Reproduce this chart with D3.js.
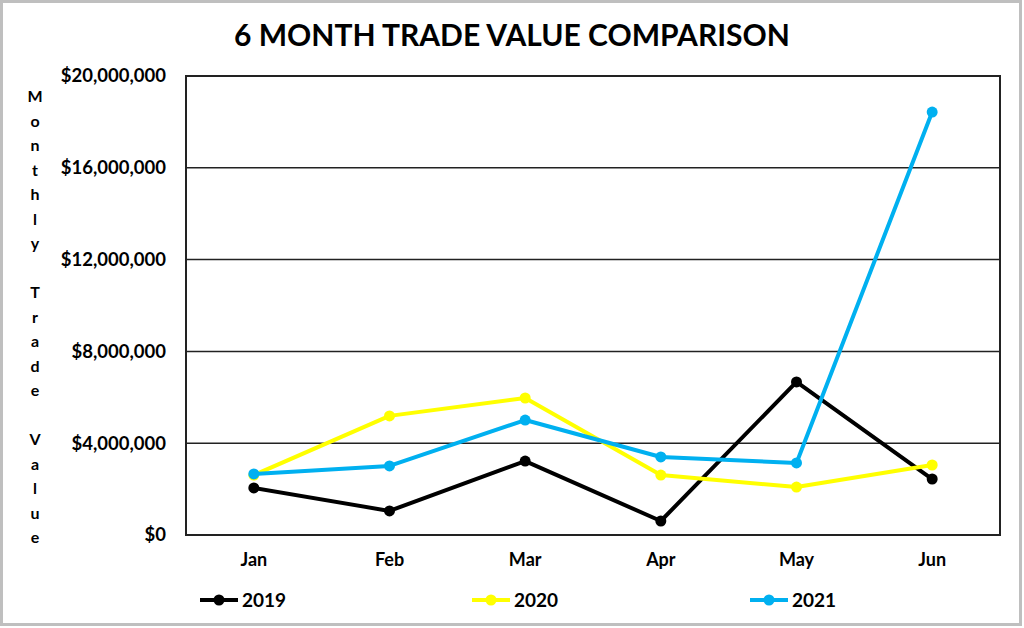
<!DOCTYPE html>
<html>
<head>
<meta charset="utf-8">
<script src="https://cdn.jsdelivr.net/npm/d3@7"></script>
<style>
  body { margin: 0; background: #fff; }
  svg { display: block; font-family: Lato, "Open Sans", sans-serif; font-weight: bold; }
</style>
</head>
<body>
<div id="chart"></div>
<script>
// Data
const months = ["Jan", "Feb", "Mar", "Apr", "May", "Jun"];
const years = ["2019", "2020", "2021"];
const values2019 = [2050000, 1050000, 3220000, 610000, 6670000, 2440000];
const values2020 = [2610000, 5190000, 5970000, 2610000, 2090000, 3050000];
const values2021 = [2660000, 3010000, 5010000, 3400000, 3140000, 18430000];
const yTicks = [0, 4000000, 8000000, 12000000, 16000000, 20000000];
const colors = ["#000000", "#ffff00", "#00b0f0"];

const series = [values2019, values2020, values2021];

const width = 1024;
const height = 628;
const margin = { top: 76, right: 24, bottom: 93, left: 186 };

const svg = d3
  .select("#chart")
  .append("svg")
  .attr("width", width)
  .attr("height", height);

// outer frame
svg
  .append("rect")
  .attr("x", 1.5)
  .attr("y", 1.5)
  .attr("width", width - 5)
  .attr("height", height - 5)
  .attr("fill", "#fff")
  .attr("stroke", "#bfbfbf")
  .attr("stroke-width", 3);

const x = d3
  .scaleBand()
  .domain(months)
  .range([margin.left, width - margin.right]);

const y = d3
  .scaleLinear()
  .domain([0, 20000000])
  .range([height - margin.bottom, margin.top]);

// title
svg
  .append("text")
  .attr("x", 512)
  .attr("y", 46)
  .attr("text-anchor", "middle")
  .attr("font-size", 30)
  .attr("fill", "#000")
  .text("6 MONTH TRADE VALUE COMPARISON");

// gridlines
svg
  .append("g")
  .selectAll("line")
  .data(yTicks.slice(1, -1))
  .join("line")
  .attr("x1", margin.left)
  .attr("x2", width - margin.right)
  .attr("y1", (d) => y(d))
  .attr("y2", (d) => y(d))
  .attr("stroke", "#222")
  .attr("stroke-width", 1.5);

// plot border
svg
  .append("rect")
  .attr("x", margin.left)
  .attr("y", margin.top)
  .attr("width", width - margin.left - margin.right)
  .attr("height", height - margin.top - margin.bottom)
  .attr("fill", "none")
  .attr("stroke", "#222")
  .attr("stroke-width", 2);

// y axis labels
const fmt = (d) => "$" + d3.format(",")(d);
const yAxis = d3.axisLeft(y).tickValues(yTicks).tickSize(0).tickPadding(20).tickFormat(fmt);
svg
  .append("g")
  .attr("transform", `translate(${margin.left},0)`)
  .call(yAxis)
  .call((g) => g.select(".domain").remove())
  .call((g) =>
    g.selectAll("text").attr("font-size", 18.5).attr("font-family", "Lato").attr("font-weight", "bold").attr("fill", "#000")
  );

// x axis labels
const xAxis = d3.axisBottom(x).tickSize(0).tickPadding(18);
svg
  .append("g")
  .attr("transform", `translate(0,${height - margin.bottom})`)
  .call(xAxis)
  .call((g) => g.select(".domain").remove())
  .call((g) =>
    g.selectAll("text").attr("font-size", 18).attr("font-family", "Lato").attr("font-weight", "bold").attr("fill", "#000")
  );

// vertical y axis title, one letter per line
const yTitle = "Monthly Trade Value".split("");
svg
  .append("g")
  .selectAll("text")
  .data(yTitle)
  .join("text")
  .attr("x", 35)
  .attr("y", (d, i) => 102 + i * 24.5)
  .attr("text-anchor", "middle")
  .attr("font-size", 16)
  .attr("fill", "#000")
  .text((d) => d);

// lines
const line = d3
  .line()
  .x((d, i) => x(months[i]) + x.bandwidth() / 2)
  .y((d) => y(d));

const lines = svg.append("g");
series.forEach((vals, s) => {
  lines
    .append("path")
    .datum(vals)
    .attr("d", line)
    .attr("fill", "none")
    .attr("stroke", colors[s])
    .attr("stroke-width", 4)
    .attr("stroke-linejoin", "round");
  lines
    .append("g")
    .selectAll("circle")
    .data(vals)
    .join("circle")
    .attr("cx", (d, i) => x(months[i]) + x.bandwidth() / 2)
    .attr("cy", (d) => y(d))
    .attr("r", 5.5)
    .attr("fill", colors[s]);
});

// legend
const legendX = [200, 472, 750];
const legend = svg
  .append("g")
  .selectAll("g")
  .data(years)
  .join("g")
  .attr("transform", (d, i) => `translate(${legendX[i]},600)`);
legend
  .append("line")
  .attr("x1", 0)
  .attr("x2", 38)
  .attr("stroke", (d, i) => colors[i])
  .attr("stroke-width", 4);
legend
  .append("circle")
  .attr("cx", 19)
  .attr("r", 5.5)
  .attr("fill", (d, i) => colors[i]);
legend
  .append("text")
  .attr("x", 42)
  .attr("y", 7)
  .attr("font-size", 19)
  .attr("fill", "#000")
  .text((d) => d);
</script>
</body>
</html>
